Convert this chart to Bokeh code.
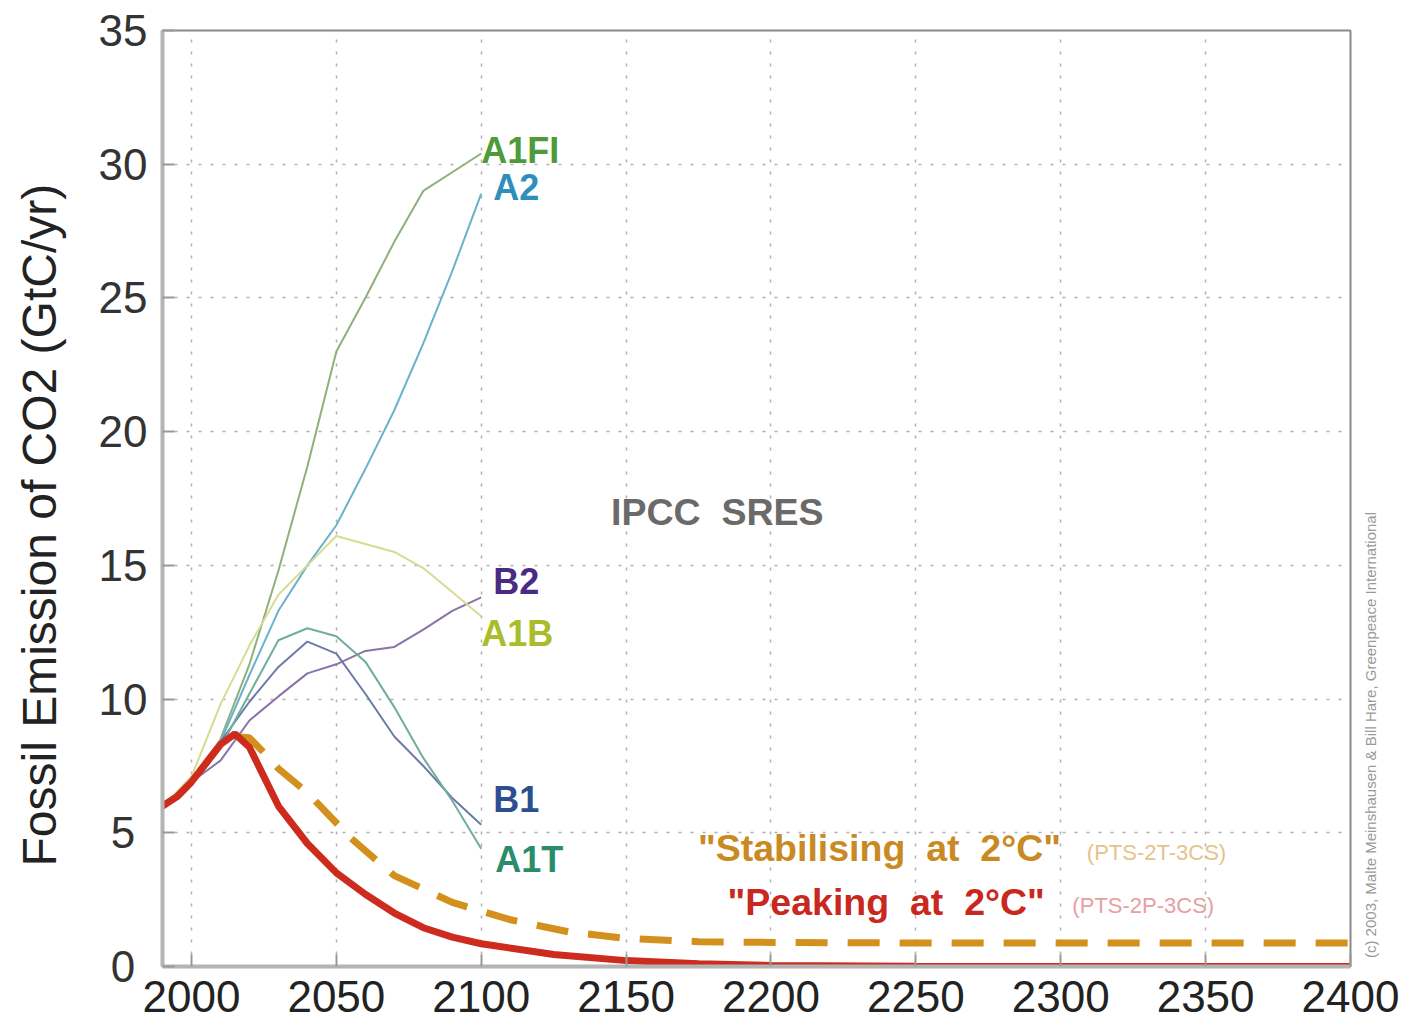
import math
from bokeh.plotting import figure
from bokeh.models import Range1d, FixedTicker, ColumnDataSource, Div
from bokeh.layouts import row
from bokeh.core.properties import value
from bokeh.embed import file_html
from bokeh.resources import INLINE

# ---------------- data ----------------
sres_years = [1990, 2000, 2010, 2020, 2030, 2040, 2050, 2060, 2070, 2080, 2090, 2100]
a1fi = [6.0, 6.9, 8.5, 11.3, 14.8, 18.7, 23.0, 25.0, 27.1, 29.0, 29.7, 30.4]
a2   = [6.0, 6.9, 8.4, 10.9, 13.3, 15.0, 16.5, 18.6, 20.8, 23.3, 26.0, 28.9]
a1b  = [6.0, 7.1, 9.8, 12.0, 13.9, 15.0, 16.1, 15.8, 15.5, 14.9, 14.0, 13.1]
b2   = [6.0, 6.9, 7.7, 9.2, 10.1, 10.96, 11.3, 11.8, 11.95, 12.6, 13.3, 13.8]
b1   = [6.0, 6.9, 8.4, 9.9, 11.2, 12.15, 11.7, 10.2, 8.6, 7.5, 6.3, 5.3]
a1t  = [6.0, 6.9, 8.2, 10.2, 12.2, 12.65, 12.35, 11.4, 9.7, 7.8, 6.2, 4.4]

peak_years = [1990, 1995, 2000, 2005, 2010, 2015, 2020, 2025, 2030, 2040, 2050, 2060,
              2070, 2080, 2090, 2100, 2125, 2150, 2175, 2200, 2250, 2300, 2350, 2400]
peaking = [6.0, 6.35, 6.9, 7.6, 8.3, 8.7, 8.2, 7.1, 6.0, 4.6, 3.5, 2.7,
           2.0, 1.45, 1.1, 0.85, 0.45, 0.22, 0.1, 0.04, 0.01, 0.0, 0.0, 0.0]

stab_years = [1990, 1995, 2000, 2005, 2010, 2015, 2020, 2025, 2030, 2040, 2055, 2070,
              2090, 2110, 2130, 2150, 2175, 2200, 2250, 2300, 2400]
stabilising = [6.0, 6.35, 6.9, 7.6, 8.3, 8.6, 8.55, 8.0, 7.4, 6.5, 4.8, 3.4,
               2.4, 1.75, 1.3, 1.05, 0.93, 0.9, 0.88, 0.88, 0.88]

x_ticks = [2000, 2050, 2100, 2150, 2200, 2250, 2300, 2350, 2400]
y_ticks = [0, 5, 10, 15, 20, 25, 30, 35]

series_names = ["A1FI", "A2", "B2", "A1B", "B1", "A1T"]
series_values = [a1fi, a2, b2, a1b, b1, a1t]
line_colors = ["#8fb07a", "#6ab2cc", "#8c72aa", "#d6dc90", "#6c7aaa", "#70ae9c"]
label_colors = ["#4f9a3a", "#2f8fba", "#4a2a82", "#a9bd2a", "#2d4f8f", "#2a8c6c"]
label_dx = [0, 12, 12, 0, 12, 14]
label_dy = [-3, -6, -16, 17, -25, 11]

NB = "\u00a0"

# ---------------- figure ----------------
p = figure(width=1400, height=1032, output_backend="svg", toolbar_location=None,
           x_range=Range1d(1990, 2400), y_range=Range1d(0, 35),
           min_border_left=162, min_border_right=50, min_border_top=30,
           min_border_bottom=66, background_fill_color="white",
           border_fill_color="white")
p.outline_line_color = "#8a8a8a"
p.outline_line_width = 2

p.xaxis.ticker = FixedTicker(ticks=x_ticks)
p.yaxis.ticker = FixedTicker(ticks=y_ticks)
p.yaxis.major_label_overrides = {t: (str(t) + "\u2008" if t < 10 else str(t)) for t in y_ticks}
p.axis.major_tick_in = 12
p.axis.major_tick_out = 0
p.axis.minor_tick_line_color = None
p.axis.major_tick_line_color = "#999999"
p.axis.major_tick_line_width = 2
p.axis.axis_line_color = "#b4b4b4"
p.axis.axis_line_width = 4

p.xaxis.major_label_text_font = "Liberation Sans"
p.xaxis.major_label_text_font_size = "44px"
p.xaxis.major_label_text_color = "#222222"
p.xaxis.major_label_standoff = 14

p.yaxis.major_label_text_font = "Liberation Sans"
p.yaxis.major_label_text_font_size = "44px"
p.yaxis.major_label_text_color = "#333333"
p.yaxis.major_label_standoff = 15
p.yaxis.axis_label = "Fossil Emission of CO2 (GtC/yr)" + NB * 4
p.yaxis.axis_label_text_font = "Liberation Sans"
p.yaxis.axis_label_text_font_style = "normal"
p.yaxis.axis_label_text_font_size = "48px"
p.yaxis.axis_label_text_color = "#222222"
p.yaxis.axis_label_standoff = 30

p.xgrid.ticker = FixedTicker(ticks=x_ticks)
p.ygrid.ticker = FixedTicker(ticks=y_ticks)
p.grid.grid_line_color = "#b0b0b0"
p.grid.grid_line_dash = "3 9"
p.grid.grid_line_width = 1.5

# SRES lines
for vals, col in zip(series_values, line_colors):
    p.line(sres_years, vals, line_color=col, line_width=2)

# stabilising and peaking pathways
p.line(stab_years, stabilising, line_color="#d4901c", line_width=7, line_dash="32 20")
p.line(peak_years, peaking, line_color="#cc2b1d", line_width=7)

# SRES labels anchored at series ends
lab_src = ColumnDataSource(dict(
    x=[sres_years[-1]] * len(series_names),
    y=[v[-1] for v in series_values],
    text=series_names, color=label_colors, dx=label_dx, dy=label_dy))
p.text(x="x", y="y", text="text", source=lab_src, text_color="color",
       x_offset="dx", y_offset="dy",
       text_font=value("Liberation Sans"), text_font_style="bold",
       text_font_size="36px", text_align="left", text_baseline="middle")

# annotation texts
ann_src = ColumnDataSource(dict(
    x=[2144.8, 2174.8, 2185.0],
    y=[17.0, 4.42, 2.43],
    text=["IPCC " + NB + "SRES",
          "\"Stabilising " + NB + "at " + NB + "2°C\"",
          "\"Peaking " + NB + "at " + NB + "2°C\""],
    color=["#6a6a6a", "#c98a24", "#c9281e"]))
p.text(x="x", y="y", text="text", source=ann_src, text_color="color",
       text_font=value("Liberation Sans"), text_font_style="bold",
       text_font_size="37.5px", text_align="left", text_baseline="middle")

small_src = ColumnDataSource(dict(
    x=[2309.0, 2304.0], y=[4.27, 2.28],
    text=["(PTS-2T-3CS)", "(PTS-2P-3CS)"],
    color=["#e4c48a", "#e6a0a0"]))
p.text(x="x", y="y", text="text", source=small_src, text_color="color",
       text_font=value("Liberation Sans"),
       text_font_size="22px", text_align="left", text_baseline="middle")

credit = Div(
    text=("<div style=\"position:absolute; left:-34px; top:730px; "
          "transform: translate(-50%, -50%) rotate(-90deg); white-space:nowrap; "
          "font-family:'Liberation Sans'; font-size:15px; color:#9a9a9a;\">"
          "(c) 2003, Malte Meinshausen &amp; Bill Hare, Greenpeace International</div>"),
    width=9, height=1032, styles={"overflow": "visible"})

layout = row(p, credit, spacing=0)
open("out.html", "w").write(file_html(layout, INLINE))
